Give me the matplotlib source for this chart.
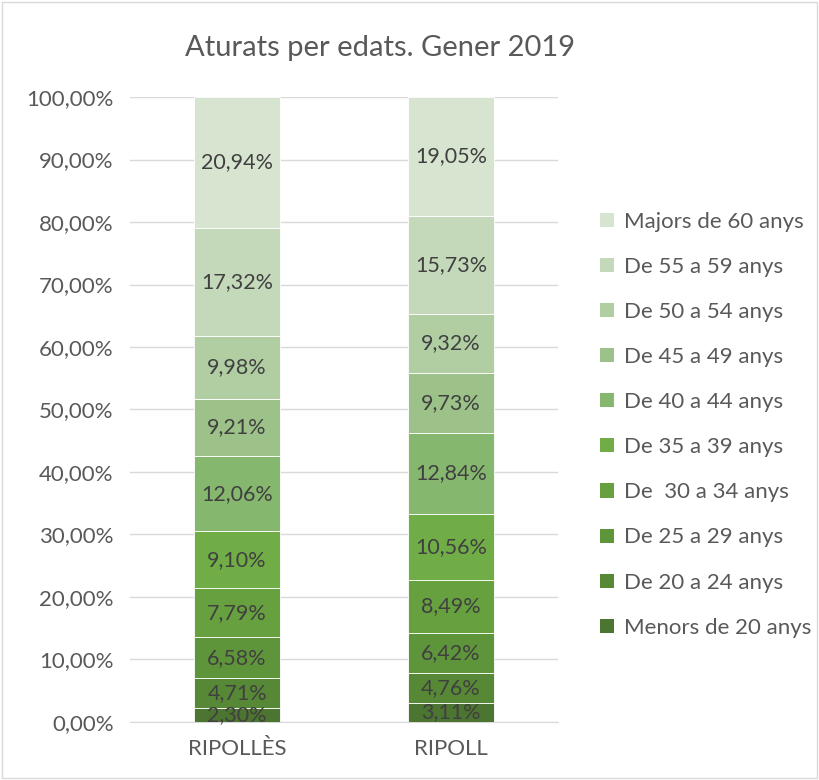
import matplotlib.pyplot as plt
from matplotlib.patches import Patch, Rectangle

plt.rcParams['font.family'] = ['Lato', 'DejaVu Sans']

# Categories (x axis) and age groups, bottom to top of the stack
regions = ["RIPOLLÈS", "RIPOLL"]
groups = ["Menors de 20 anys", "De 20 a 24 anys", "De 25 a 29 anys",
          "De  30 a 34 anys", "De 35 a 39 anys", "De 40 a 44 anys",
          "De 45 a 49 anys", "De 50 a 54 anys", "De 55 a 59 anys",
          "Majors de 60 anys"]

ripolles = [2.30, 4.71, 6.58, 7.79, 9.10, 12.06, 9.21, 9.98, 17.32, 20.94]
ripoll = [3.11, 4.76, 6.42, 8.49, 10.56, 12.84, 9.73, 9.32, 15.73, 19.05]

colors = ["#4B7530", "#578836", "#5F953A", "#67A03F", "#70AD47",
          "#86B76E", "#9CC289", "#B1CEA3", "#C4D9BA", "#D6E4D0"]

fig = plt.figure(figsize=(8.19, 7.80), dpi=100)
ax = fig.add_axes([0.159, 0.0744, 0.522, 0.8012])

x = [0, 1]
bottoms = [0.0, 0.0]
for i, g in enumerate(groups):
    vals = [ripolles[i], ripoll[i]]
    ax.bar(x, vals, width=0.40, bottom=bottoms, color=colors[i],
           edgecolor="white", linewidth=0.6, zorder=3)
    for j in range(2):
        ax.text(x[j], bottoms[j] + vals[j] / 2,
                ("%.2f%%" % vals[j]).replace(".", ","),
                ha="center", va="center", fontsize=15.5, color="#404040",
                zorder=4)
        bottoms[j] += vals[j]

ax.set_xlim(-0.5, 1.5)
ax.set_ylim(0, 100)
ax.set_yticks(range(0, 101, 10))
ax.set_yticklabels([("%.2f%%" % v).replace(".", ",") for v in range(0, 101, 10)])
ax.set_xticks(x)
ax.set_xticklabels(regions)
ax.tick_params(axis="both", length=0, labelsize=16, colors="#595959")
ax.tick_params(axis="x", pad=12)
ax.tick_params(axis="y", pad=12)
ax.grid(axis="y", color="#D9D9D9", linewidth=1, zorder=0)
for s in ["top", "right", "left"]:
    ax.spines[s].set_visible(False)
ax.spines["bottom"].set_color("#D9D9D9")

handles = [Patch(facecolor=colors[i], label=groups[i]) for i in range(9, -1, -1)]
fig.legend(handles=handles, loc="upper left", bbox_to_anchor=(0.722, 0.74),
           frameon=False, fontsize=16, labelcolor="#595959",
           handlelength=0.6, handleheight=0.6, handletextpad=0.45,
           labelspacing=1.13, borderaxespad=0)

fig.text(380 / 819, 1 - 48 / 780, "Aturats per edats. Gener 2019",
         ha="center", va="center", fontsize=21, color="#595959")

fig.patches.append(Rectangle((0.002, 0.002), 0.996, 0.996, transform=fig.transFigure,
                             fill=False, edgecolor="#D9D9D9", linewidth=1))

fig.savefig("out.png", dpi=100)
